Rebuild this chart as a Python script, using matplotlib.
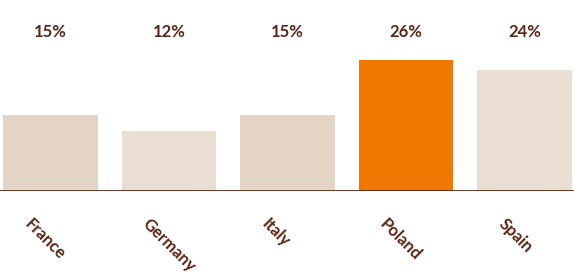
import matplotlib.pyplot as plt
from matplotlib import transforms

countries = ['France', 'Germany', 'Italy', 'Poland', 'Spain']
shares = [15, 12, 15, 26, 24]
value_labels = ['15%', '12%', '15%', '26%', '24%']
bar_colors = ['#e3d4c6', '#eaddd1', '#e3d4c6', '#f07800', '#eaddd1']

brown = '#5b2614'

fig = plt.figure(figsize=(5.74, 2.75), dpi=100)
# baseline at y=191px, Poland top at 60px
ax = fig.add_axes([0, 1 - 191 / 275, 1, 131 / 275 / 26 * 30])
ax.bar(range(len(countries)), shares, width=0.8, color=bar_colors)
ax.set_xlim(-0.426, 4.418)
ax.set_ylim(0, 30)
ax.axis('off')
ax.axhline(0, color=brown, lw=2)

# value labels sit at a fixed height above the plot
for i, lab in enumerate(value_labels):
    ax.text(i, 1 - 32 / 275, lab, transform=transforms.blended_transform_factory(ax.transData, fig.transFigure),
            ha='center', va='center', fontsize=12, fontweight='bold', color=brown, family='Lato')

# rotated category labels
for i, name in enumerate(countries):
    off = transforms.ScaledTranslation(-18 / 100, -25 / 100, fig.dpi_scale_trans)
    ax.text(i, 0, name, transform=ax.transData + off, rotation=-45, rotation_mode='anchor',
            ha='left', va='top', fontsize=12, fontweight='bold', color=brown, family='Lato')

fig.savefig('out.png', dpi=100)
